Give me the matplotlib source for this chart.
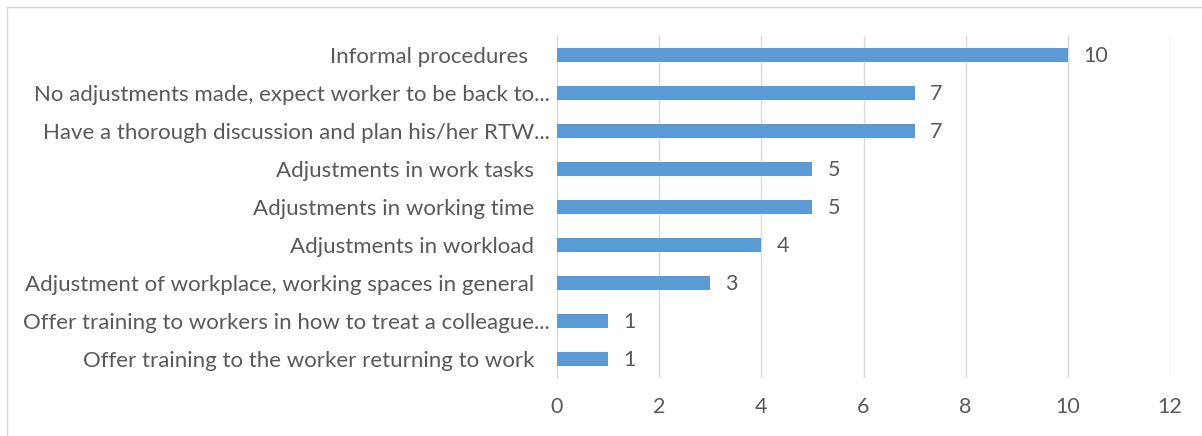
import matplotlib.pyplot as plt
from matplotlib.patches import Rectangle
from matplotlib.transforms import ScaledTranslation

categories = [
    'Offer training to the worker returning to work',
    'Offer training to workers in how to treat a colleague...',
    'Adjustment of workplace, working spaces in general',
    'Adjustments in workload',
    'Adjustments in working time',
    'Adjustments in work tasks',
    'Have a thorough discussion and plan his/her RTW...',
    'No adjustments made, expect worker to be back to...',
    'Informal procedures',
]
values = [1, 1, 3, 4, 5, 5, 7, 7, 10]
xticks = [0, 2, 4, 6, 8, 10, 12]

plt.rcParams['font.family'] = ['Lato', 'DejaVu Sans']
grey = '#595959'
fs = 15.5

fig = plt.figure(figsize=(12.02, 4.36), dpi=100)
ax = fig.add_axes([557 / 1202, 1 - 378 / 436, 613 / 1202, 342 / 436])

ypos = range(len(categories))
ax.barh(ypos, values, height=0.37, color='#5B9BD5', zorder=3)
for y, v in zip(ypos, values):
    ax.annotate(str(v), (v, y), xytext=(11, -1), textcoords='offset points',
                va='center', ha='left', fontsize=fs, color=grey)

ax.set_xlim(0, 12)
ax.set_ylim(-0.5, len(categories) - 0.5)
ax.set_xticks(xticks)
ax.set_yticks(list(ypos))
ax.set_yticklabels(categories)
ax.tick_params(axis='x', length=0, labelsize=fs, colors=grey, pad=14)
ax.tick_params(axis='y', length=0, labelsize=16, colors=grey, pad=5)

# labels that are not cut off sit a bit further from the axis, like in Excel
for lab in ax.get_yticklabels():
    txt = lab.get_text()
    if not txt.endswith('...'):
        shift = 22 if txt == 'Informal procedures' else 16
        lab.set_transform(lab.get_transform() +
                          ScaledTranslation(-shift / 100, 0, fig.dpi_scale_trans))

ax.grid(axis='x', color='#D9D9D9', linewidth=1, zorder=0)
for s in ['top', 'right', 'bottom']:
    ax.spines[s].set_visible(False)
ax.spines['left'].set_color('#D9D9D9')

# chart area border
fig.patches.append(Rectangle((7 / 1202, -0.05), 1.1, 1 - 7 / 436 + 0.05,
                             transform=fig.transFigure, fill=False,
                             edgecolor='#D9D9D9', linewidth=1))

fig.savefig('out.png', dpi=100)
